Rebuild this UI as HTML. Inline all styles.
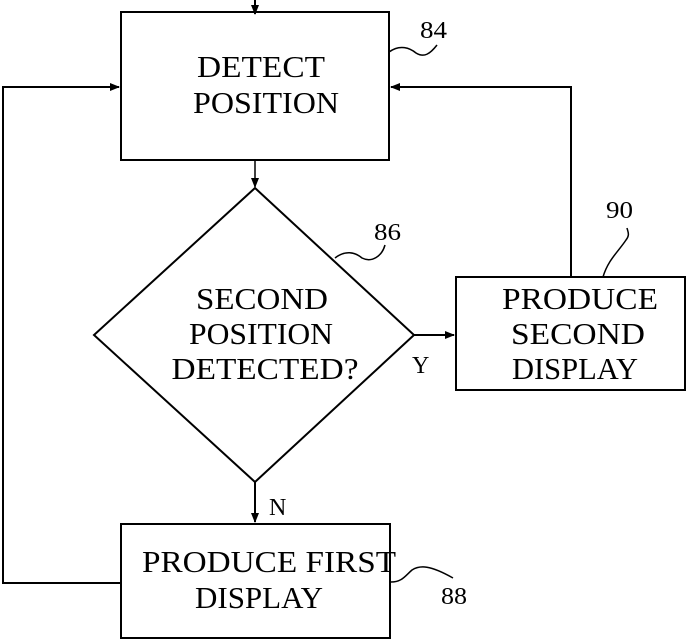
<!DOCTYPE html>
<html><head><meta charset="utf-8"><style>
html,body{margin:0;padding:0;background:#fff}
svg{display:block}
text{font-family:"Liberation Serif",serif;fill:#000}
</style></head><body>
<svg width="687" height="639" viewBox="0 0 687 639" xmlns="http://www.w3.org/2000/svg">
<defs><marker id="a" markerWidth="10" markerHeight="10" refX="9" refY="5" orient="auto" markerUnits="userSpaceOnUse"><path d="M0,1 L10,5 L0,9 z" fill="#000"/></marker></defs>
<g stroke="#000" stroke-width="2" fill="none">
<line x1="255" y1="0" x2="255" y2="14" marker-end="url(#a)"/>
<rect x="121" y="12" width="268" height="148"/>
<line x1="255" y1="160" x2="255" y2="187" stroke-width="1.5" marker-end="url(#a)"/>
<polygon points="255,188 414,335 255,482 94,335"/>
<line x1="414" y1="335" x2="454" y2="335" marker-end="url(#a)"/>
<rect x="456" y="277" width="229" height="113"/>
<line x1="255" y1="482" x2="255" y2="522" marker-end="url(#a)"/>
<rect x="121" y="524" width="269" height="114"/>
<polyline points="121,583 3,583 3,87 119,87" marker-end="url(#a)"/>
<polyline points="571,277 571,87 391,87" marker-end="url(#a)"/>
<path d="M389,52 C400,44 410,48 416,53 C424,58 430,54 437,45" stroke-width="1.5"/>
<path d="M335,258 C345,250 355,252 362,258 C372,263 382,256 385,245" stroke-width="1.5"/>
<path d="M603,277 C608,260 618,252 626,240 C630,235 628,232 627,228" stroke-width="1.5"/>
<path d="M391,582 C402,582 405,576 412,570 C420,565 430,565 453,578" stroke-width="1.5"/>
</g>
<g font-size="31" text-anchor="middle">
<text x="261" y="77" textLength="128" lengthAdjust="spacingAndGlyphs">DETECT</text>
<text x="266" y="113" textLength="146" lengthAdjust="spacingAndGlyphs">POSITION</text>
<text x="262" y="309" textLength="132" lengthAdjust="spacingAndGlyphs">SECOND</text>
<text x="261" y="344" textLength="144" lengthAdjust="spacingAndGlyphs">POSITION</text>
<text x="265" y="379" textLength="187" lengthAdjust="spacingAndGlyphs">DETECTED?</text>
<text x="580" y="309" textLength="156" lengthAdjust="spacingAndGlyphs">PRODUCE</text>
<text x="578" y="344" textLength="134" lengthAdjust="spacingAndGlyphs">SECOND</text>
<text x="575" y="379" textLength="126" lengthAdjust="spacingAndGlyphs">DISPLAY</text>
<text x="269" y="572" textLength="254" lengthAdjust="spacingAndGlyphs">PRODUCE FIRST</text>
<text x="259" y="608" textLength="128" lengthAdjust="spacingAndGlyphs">DISPLAY</text>
</g>
<g font-size="24">
<text x="412" y="373">Y</text>
<text x="269" y="515">N</text>
<text x="420" y="38" textLength="27" lengthAdjust="spacingAndGlyphs">84</text>
<text x="374" y="240" textLength="27" lengthAdjust="spacingAndGlyphs">86</text>
<text x="606" y="218" textLength="27" lengthAdjust="spacingAndGlyphs">90</text>
<text x="441" y="604" textLength="26" lengthAdjust="spacingAndGlyphs">88</text>
</g>
</svg>
</body></html>
